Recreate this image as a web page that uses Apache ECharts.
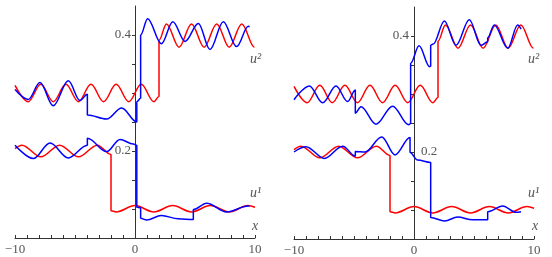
<!DOCTYPE html>
<html><head><meta charset="utf-8">
<script src="https://cdn.jsdelivr.net/npm/echarts@6/dist/echarts.min.js"></script>
<style>html,body{margin:0;padding:0;background:#fff}#c{width:552px;height:257px}</style>
</head><body><div id="c"></div>
<script>
// ---- data ----
const xTickLabels = {"-10": "\u221210", "0": "0", "10": "10"};
const yTickLabels = {"0.4": "0.4", "0.2": "0.2"};

// exact-like solution (red), same in both panels
const redU2 = [[-10,0.313],[-8.90,0.285],[-7.85,0.315],[-6.81,0.285],[-5.76,0.315],[-4.71,0.285],[-3.67,0.315],[-2.62,0.285],[-1.57,0.315],[-0.52,0.285],[0.52,0.315],[1.57,0.285],[2.0,0.294],[2.0,0.391],[2.62,0.419],[3.67,0.379],[4.71,0.419],[5.76,0.379],[6.81,0.419],[7.85,0.379],[8.90,0.419],[9.95,0.379],[10,0.379]];
const redU1 = [[-10,0.204],[-9.42,0.210],[-7.85,0.190],[-6.28,0.210],[-4.71,0.190],[-3.14,0.210],[-2.0,0.194],[-2.0,0.097],[-1.57,0.095],[0,0.106],[1.57,0.095],[3.14,0.106],[4.71,0.095],[6.28,0.106],[7.85,0.095],[9.42,0.106],[10,0.103]];

// numerical solution (blue), left panel
const blueU2Left = [[-10,0.306],[-8.89,0.289],[-7.92,0.318],[-6.81,0.278],[-5.56,0.321],[-4.58,0.287],[-3.97,0.298],[-3.97,0.262],[-2.36,0.255],[-1.11,0.274],[0.15,0.250],[0.15,0.285],[0.47,0.291],[0.47,0.400],[1.05,0.428],[2.2,0.385],[3.15,0.423],[4.17,0.389],[5.28,0.420],[6.25,0.375],[7.36,0.423],[8.47,0.380],[9.44,0.415],[9.55,0.414]];
const blueU1Left = [[-10,0.210],[-8.47,0.187],[-7.08,0.214],[-5.56,0.188],[-3.97,0.210],[-3.97,0.222],[-2.36,0.199],[-1.25,0.220],[-0.14,0.212],[0.15,0.210],[0.15,0.103],[0.47,0.102],[0.47,0.084],[0.97,0.081],[2.2,0.089],[3.6,0.083],[4.86,0.082],[4.86,0.099],[5.97,0.110],[7.64,0.095],[9.44,0.105],[9.55,0.105]];

// numerical solution (blue), right panel
const blueU2Right = [[-10,0.290],[-8.72,0.314],[-7.61,0.285],[-6.5,0.314],[-5.53,0.287],[-4.89,0.307],[-4.89,0.267],[-4.42,0.278],[-3.17,0.248],[-1.78,0.279],[-0.45,0.247],[-0.28,0.249],[-0.28,0.353],[0.42,0.383],[1.3,0.347],[1.39,0.348],[1.39,0.384],[1.6,0.386],[2.53,0.426],[3.5,0.384],[4.61,0.428],[5.58,0.384],[6.14,0.390],[6.14,0.397],[6.69,0.419],[7.81,0.379],[8.64,0.419],[8.92,0.412]];
const blueU1Right = [[-10,0.200],[-9.0,0.209],[-7.47,0.189],[-5.94,0.210],[-4.89,0.193],[-4.89,0.201],[-4.08,0.200],[-2.69,0.226],[-1.58,0.195],[-0.33,0.225],[-0.33,0.199],[0.3,0.186],[1.39,0.182],[1.39,0.087],[2.55,0.081],[3.64,0.088],[4.89,0.083],[6.14,0.083],[6.14,0.097],[7.39,0.107],[8.5,0.096],[8.92,0.097]];

// ---- chart ----
const FONT = 'Liberation Serif';
const AX = '#333', TXT = '#555';
const RED = '#ff0000', BLUE = '#0000ff';
const Y_MIN = 0.05, Y_MAX = 0.45, Y_STEP = 0.05;

function fmtX(v){ const k = String(Math.round(v)); return xTickLabels[k] || ''; }
const only = keys => v => { const k = (Math.round(v*100)/100).toString(); return keys.indexOf(k) >= 0 ? yTickLabels[k] : ''; };

function gridDef(left, top, width){
  return {left:left, top:top, width:width, height:232, containLabel:false, outerBoundsMode:'none'};
}
function xAxisDef(g, show){
  return {type:'value', gridIndex:g, min:-10, max:10, interval:1, show:show,
    axisLine:{onZero:false, lineStyle:{color:AX,width:1}},
    axisTick:{inside:true, length:3, lineStyle:{color:AX,width:1}},
    splitLine:{show:false},
    axisLabel:{formatter:fmtX, fontFamily:FONT, fontSize:13, color:TXT, margin:5, showMinLabel:true, showMaxLabel:true, hideOverlap:false}};
}
function yHidden(g){
  return {type:'value', gridIndex:g, min:Y_MIN, max:Y_MAX, interval:Y_STEP, show:false, axisLine:{onZero:false}, splitLine:{show:false}};
}
function yShown(g, keys, inside, showLine, margin){
  return {type:'value', gridIndex:g, min:Y_MIN, max:Y_MAX, interval:Y_STEP, position:'left',
    axisLine:{show:showLine, onZero:false, lineStyle:{color:AX,width:1}},
    axisTick:{show:showLine, inside:false, length:3, lineStyle:{color:AX,width:1}},
    splitLine:{show:false},
    axisLabel:{formatter:only(keys), inside:inside, fontFamily:FONT, fontSize:13, color:TXT, margin:margin, showMinLabel:false, showMaxLabel:false, hideOverlap:false}};
}
function line(data, color, xi, yi){
  return {type:'line', data:data, xAxisIndex:xi, yAxisIndex:yi, showSymbol:false, symbol:'none',
    smooth:0.35, smoothMonotone:'x', lineStyle:{color:color, width:1.5}, itemStyle:{color:color},
    silent:true, clip:true, z:color===BLUE?3:2};
}

const chart = echarts.init(document.getElementById('c'), null, {renderer:'canvas'});
const txt = (t, x, y) => ({type:'text', x:x, y:y, style:{text:t, font:'italic 14px "Liberation Serif"', fill:TXT, verticalAlign:'middle'}});
chart.setOption({
  animation:false,
  backgroundColor:'#fff',
  grid:[
    gridDef(15, 6, 240),   // 0 left data
    gridDef(135, 6, 120),  // 1 left y axis at x = 0
    gridDef(294, 7, 240),  // 2 right data
    gridDef(414, 7, 120),  // 3 right y axis at x = 0
    gridDef(414, 7, 120)   // 4 right inside label
  ],
  xAxis:[xAxisDef(0,true), xAxisDef(1,false), xAxisDef(2,true), xAxisDef(3,false), xAxisDef(4,false)],
  yAxis:[
    yHidden(0),
    yShown(1, ['0.4','0.2'], false, true, 4),
    yHidden(2),
    yShown(3, ['0.4'], false, true, 5),
    yShown(4, ['0.2'], true, false, 7)
  ],
  series:[
    line(redU2, RED, 0, 0), line(redU1, RED, 0, 0),
    line(blueU2Left, BLUE, 0, 0), line(blueU1Left, BLUE, 0, 0),
    line(redU2, RED, 2, 2), line(redU1, RED, 2, 2),
    line(blueU2Right, BLUE, 2, 2), line(blueU1Right, BLUE, 2, 2)
  ],
  graphic:[
    txt('u\u00b2', 250, 59), txt('u\u00b9', 250, 193), txt('x', 252, 226),
    txt('u\u00b2', 528, 59), txt('u\u00b9', 528, 193), txt('x', 532, 226)
  ]
});
</script></body></html>
